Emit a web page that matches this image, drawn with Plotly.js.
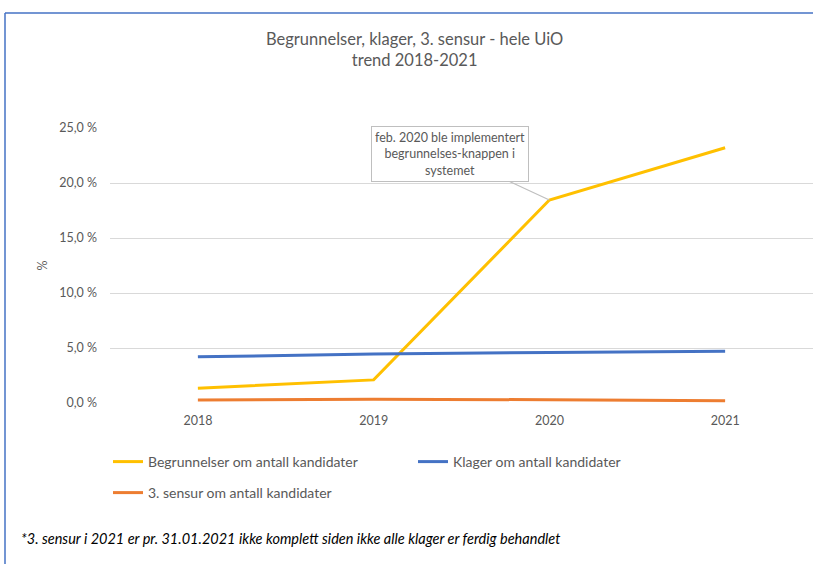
<!DOCTYPE html>
<html>
<head>
<meta charset="utf-8">
<script src="https://cdn.plot.ly/plotly-3.0.1.min.js"></script>
<style>
html,body{margin:0;padding:0;background:#fff;}
#chart{width:813px;height:564px;}
</style>
</head>
<body>
<div id="chart"></div>
<script>
// Data
const years = ["2018", "2019", "2020", "2021"];
const begrunnelser = [1.35, 2.1, 18.45, 23.2];
const klager = [4.2, 4.45, 4.6, 4.7];
const sensur3 = [0.27, 0.33, 0.3, 0.2];
const seriesNames = ["Begrunnelser om antall kandidater", "Klager om antall kandidater", "3. sensur om antall kandidater"];
const yTicks = [0, 5, 10, 15, 20, 25];
const yTickText = ["0,0 %", "5,0 %", "10,0 %", "15,0 %", "20,0 %", "25,0 %"];
const calloutYear = "2020";

const W = 813, H = 564;
const mL = 110, mR = 0, mT = 128, mB = 161;
const pw = W - mL - mR, ph = H - mT - mB;
const px = x => (x - mL) / pw;
const py = y => (H - mB - y) / ph;

const FONT = "Lato, 'Open Sans', sans-serif";
const GREY = "#595959";

const traces = [
  {x: years, y: begrunnelser, name: seriesNames[0], type: "scatter", mode: "lines",
   line: {color: "#FFC000", width: 3}, legend: "legend"},
  {x: years, y: klager, name: seriesNames[1], type: "scatter", mode: "lines",
   line: {color: "#4472C4", width: 3}, legend: "legend"},
  {x: years, y: sensur3, name: seriesNames[2], type: "scatter", mode: "lines",
   line: {color: "#ED7D31", width: 3}, legend: "legend2"}
];

const ci = years.indexOf(calloutYear);

const layout = {
  width: W, height: H,
  margin: {l: mL, r: mR, t: mT, b: mB},
  paper_bgcolor: "#fff", plot_bgcolor: "#fff",
  font: {family: FONT, color: GREY, size: 12},
  title: {
    text: "Begrunnelser, klager, 3. sensur - hele UiO<br>trend 2018-2021",
    font: {family: FONT, size: 16.5, color: GREY},
    x: 0.51, xanchor: "center", y: 1 - 45 / H, yanchor: "top", yref: "container"
  },
  xaxis: {
    type: "category", range: [-0.5, years.length - 0.5],
    showgrid: false, zeroline: false, showline: false,
    ticks: "", tickfont: {size: 12.5, color: GREY}, ticklabelstandoff: 8,
    fixedrange: true
  },
  yaxis: {
    range: [0, 25], tickvals: yTicks, ticktext: yTickText, tickmode: "array",
    showgrid: true, gridcolor: "#d9d9d9", gridwidth: 1, zeroline: false, showline: false,
    ticks: "", tickfont: {size: 12.5, color: GREY}, ticklabelstandoff: 12,
    title: {text: "%", font: {size: 12.5, color: GREY}, standoff: 8},
    fixedrange: true
  },
  showlegend: true,
  legend: {
    orientation: "h", x: px(108), xanchor: "left", y: py(462), yanchor: "middle",
    entrywidth: 260, entrywidthmode: "pixels", itemwidth: 30,
    font: {size: 14, color: GREY}, bgcolor: "rgba(0,0,0,0)"
  },
  legend2: {
    orientation: "h", x: px(108), xanchor: "left", y: py(493), yanchor: "middle",
    itemwidth: 30,
    font: {size: 14, color: GREY}, bgcolor: "rgba(0,0,0,0)"
  },
  annotations: [
    {
      x: ci, y: begrunnelser[ci], xref: "x", yref: "y",
      text: "feb. 2020 ble implementert<br>begrunnelses-knappen i<br>systemet",
      showarrow: true, arrowhead: 0, arrowwidth: 1.2, arrowcolor: "#bfbfbf",
      ax: -99, ay: -46,
      bordercolor: "#bfbfbf", borderwidth: 1, borderpad: 3, bgcolor: "#fff",
      font: {size: 12.5, color: GREY, family: FONT}, align: "center"
    },
    {
      xref: "paper", yref: "paper", x: px(19), y: py(538), xanchor: "left", yanchor: "middle",
      showarrow: false,
      text: "<i>*3. sensur i 2021 er pr. 31.01.2021 ikke komplett siden ikke alle klager er ferdig behandlet</i>",
      font: {size: 14.5, color: "#000", family: FONT}
    }
  ],
  shapes: [
    {type: "line", xref: "paper", yref: "paper", x0: px(5), x1: px(813), y0: py(13), y1: py(13),
     line: {color: "#4472C4", width: 1.5}},
    {type: "line", xref: "paper", yref: "paper", x0: px(5), x1: px(5), y0: py(13), y1: py(564),
     line: {color: "#4472C4", width: 1.5}}
  ]
};

Plotly.newPlot("chart", traces, layout, {displayModeBar: false, staticPlot: true});
</script>
</body>
</html>
